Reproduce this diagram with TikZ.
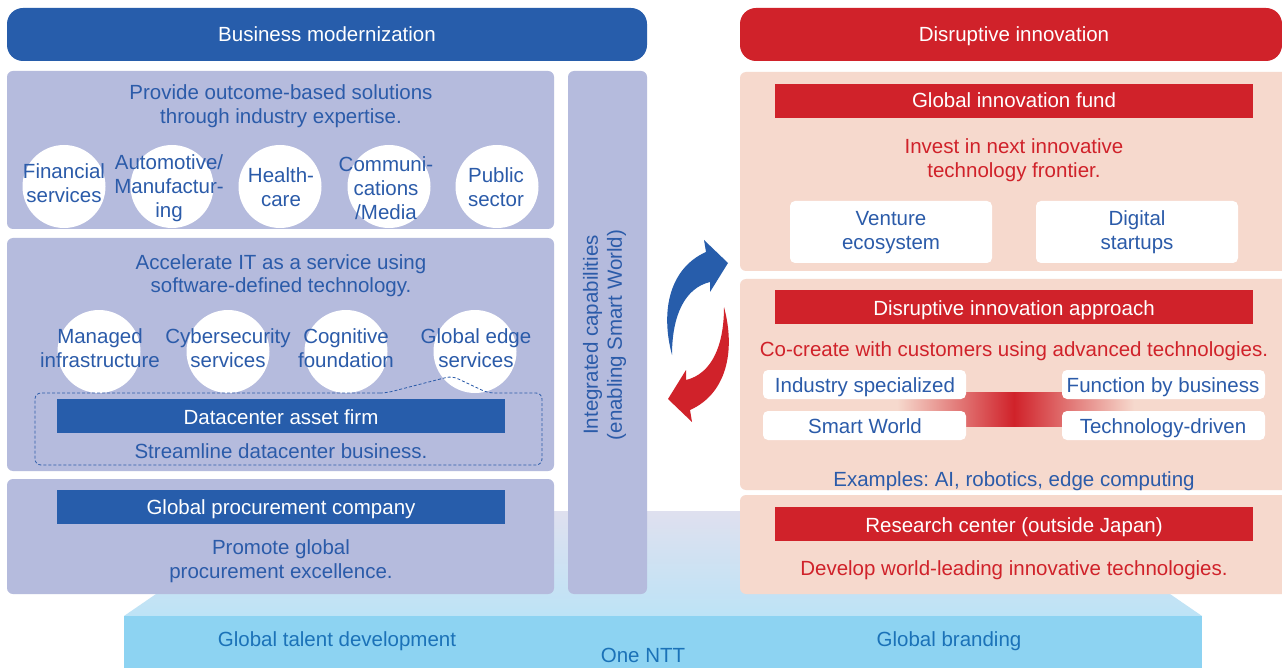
\documentclass[tikz,border=0pt]{standalone}
\usepackage{fontspec}
\setmainfont{Liberation Sans}
\frenchspacing
\definecolor{dblue}{HTML}{275DAB}
\definecolor{lav}{HTML}{B5BBDD}
\definecolor{dred}{HTML}{D0222A}
\definecolor{rpink}{HTML}{F6D9CD}
\definecolor{tblue}{HTML}{2B5BA9}
\definecolor{sky}{HTML}{8DD3F2}
\definecolor{skytxt}{HTML}{1B72B8}
\definecolor{topA}{HTML}{DFE0EF}
\definecolor{topB}{HTML}{BDE3F6}
\definecolor{bandmid}{HTML}{E07A5C}
\newcommand\myfs{\fontsize{20.5}{24}\selectfont}
\tikzset{
  txt/.style={font=\myfs, inner sep=0pt, align=center, anchor=base},
  wtxt/.style={txt, text=white},
  btxt/.style={txt, text=tblue},
  rtxt/.style={txt, text=dred},
  stxt/.style={txt, text=skytxt},
  lavbox/.style={fill=lav, rounded corners=6pt},
  pinkbox/.style={fill=rpink, rounded corners=6pt},
  header/.style={rounded corners=16pt},
  bluebar/.style={fill=dblue},
  redbar/.style={fill=dred},
  whitebox/.style={fill=white, rounded corners=5pt},
  bubble/.style={fill=white},
  callout/.style={draw=tblue, line width=0.8pt, dash pattern=on 3pt off 2pt, rounded corners=6pt},
}
\begin{document}
\begin{tikzpicture}[x=1pt,y=-1pt]
\clip (0,0) rectangle (1282,668);
\fill[white] (0,0) rectangle (1282,668);
% platform
\shade[top color=topA, bottom color=topB] (277,511) -- (1049,511) -- (1202,616) -- (124,616) -- cycle;
\fill[sky] (124,616) rectangle (1202,680);
% headers
\fill[dblue, header] (7,8) rectangle (647,61);
\fill[dred, header] (740,8) rectangle (1282,61);
% left boxes
\fill[lavbox] (7,71) rectangle (554,229);
\fill[lavbox] (7,238) rectangle (554,471);
\fill[lavbox] (7,479) rectangle (554,594);
\fill[lavbox] (568,71) rectangle (647,594);
% right boxes
\fill[pinkbox] (740,72) rectangle (1295,271);
\fill[pinkbox] (740,279) rectangle (1295,490);
\fill[pinkbox] (740,495) rectangle (1295,594);
% bubbles row 1
\foreach \cx in {64,172,280,389,497}{\fill[bubble] (\cx,186.5) circle (41.5pt);}
% bubbles row 2
\foreach \cx in {99,228,346,475}{\fill[bubble] (\cx,351.5) circle (41.5pt);}
% bars
\fill[bluebar] (57,399) rectangle (505,433);
\fill[bluebar] (57,490) rectangle (505,524);
\fill[redbar] (775,84) rectangle (1253,118);
\fill[redbar] (775,290) rectangle (1253,324);
\fill[redbar] (775,507) rectangle (1253,541);
% gradient band
\shade[left color=rpink, middle color=bandmid, right color=dred] (897,392) rectangle (1014,426);
\shade[left color=dred, middle color=bandmid, right color=rpink] (1014,392) rectangle (1134,426);
% white boxes
\fill[whitebox] (790,201) rectangle (992,263);
\fill[whitebox] (1036,201) rectangle (1238,263);
\fill[whitebox] (763,370) rectangle (966,399);
\fill[whitebox] (763,411) rectangle (966,440);
\fill[whitebox] (1062,370) rectangle (1265,399);
\fill[whitebox] (1062,411) rectangle (1265,440);
% dashed callout
\draw[callout] (386,393) -- (35,393) -- (35,465) -- (542,465) -- (542,393) -- (488,393) -- (452,376) -- cycle;
% arrows
\fill[dblue] (672,355) .. controls (660,310) and (670,268) .. (706,252) -- (704,240) -- (728,263) -- (710,292) -- (710,282) .. controls (685,288) and (672,315) .. (672,355) -- cycle;
\fill[dred] (724,307) .. controls (736,352) and (726,394) .. (690,410) -- (692,422) -- (668,399) -- (686,370) -- (686,380) .. controls (711,374) and (724,347) .. (724,307) -- cycle;
% texts (multi-line nodes: base = baseline of last line)
\node[wtxt] (h1) at (327,42) {Business modernization};
\node[wtxt] (h2) at (1014,42) {Disruptive innovation};
\node[btxt] (p1) at (281,124) {Provide outcome-based solutions\\through industry expertise.};
\node[btxt] (c1) at (64,203) {Financial\\services};
\node[btxt] (c2) at (169,218) {Automotive/\\Manufactur-\\ing};
\node[btxt] (c3) at (281,207) {Health-\\care};
\node[btxt] (c4) at (386,220) {Communi-\\cations\\/Media};
\node[btxt] (c5) at (496,207) {Public\\sector};
\node[btxt] (p2) at (281,293) {Accelerate IT as a service using\\software-defined technology.};
\node[btxt] (d1) at (100,367) {Managed\\infrastructure};
\node[btxt] (d2) at (228,367) {Cybersecurity\\services};
\node[btxt] (d3) at (346,367) {Cognitive\\foundation};
\node[btxt] (d4) at (476,367) {Global edge\\services};
\node[wtxt] (dc) at (281,424) {Datacenter asset firm};
\node[btxt] (sd) at (281,458) {Streamline datacenter business.};
\node[wtxt] (gp) at (281,514) {Global procurement company};
\node[btxt] (pg) at (281,578) {Promote global\\procurement excellence.};
\node[btxt, anchor=center, rotate=90] (ic) at (604.5,335) {Integrated capabilities\\(enabling Smart World)};
\node[wtxt] (gf) at (1014,108) {Global innovation fund};
\node[rtxt] (iv) at (1014,178) {Invest in next innovative\\technology frontier.};
\node[btxt] (ve) at (891,250) {Venture\\ecosystem};
\node[btxt] (ds) at (1137,250) {Digital\\startups};
\node[wtxt] (da) at (1014,316) {Disruptive innovation approach};
\node[rtxt] (cc) at (1014,356) {Co-create with customers using advanced technologies.};
\node[btxt] (is) at (865,392) {Industry specialized};
\node[btxt] (sw) at (865,433) {Smart World};
\node[btxt] (fb) at (1163,392) {Function by business};
\node[btxt] (td) at (1163,433) {Technology-driven};
\node[btxt] (ex) at (1014,486) {Examples: AI, robotics, edge computing};
\node[wtxt] (rc) at (1014,532) {Research center (outside Japan)};
\node[rtxt] (dw) at (1014,575) {Develop world-leading innovative technologies.};
\node[stxt] (gt) at (337,646) {Global talent development};
\node[stxt] (gb) at (949,646) {Global branding};
\node[stxt] (on) at (643,662) {One NTT};
\end{tikzpicture}
\end{document}
